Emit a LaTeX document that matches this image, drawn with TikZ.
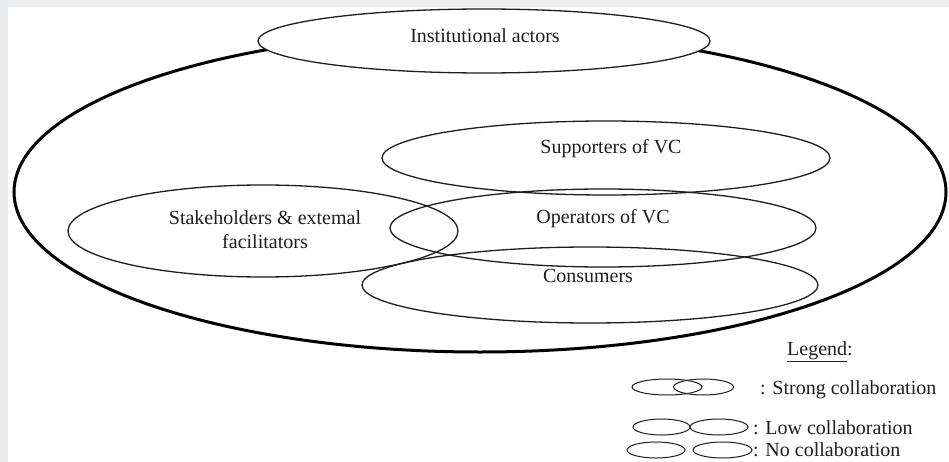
\documentclass[tikz,border=0pt]{standalone}
\usepackage{fontspec}
\setmainfont{Liberation Serif}
\usetikzlibrary{shapes.geometric}
\definecolor{framegrey}{HTML}{EBECEE}
\definecolor{inkc}{HTML}{1E1E1E}
\tikzset{
  oval/.style={draw=inkc, line width=1.3pt},
  bigoval/.style={draw=black, line width=3pt},
  smalloval/.style={draw=inkc, line width=1pt},
  lbl/.style={font=\fontsize{20}{24}\selectfont, text=inkc, inner sep=0pt, align=center},
  leglbl/.style={font=\fontsize{20}{24}\selectfont, text=inkc, inner sep=0pt, anchor=west},
}
\begin{document}
\begin{tikzpicture}[x=1pt,y=-1pt]
\useasboundingbox (0,0) rectangle (949,462);
\fill[framegrey] (0,0) rectangle (949,462);
\fill[white] (8,7) rectangle (949,462);
% outer ellipse
\draw[bigoval] (480,192) ellipse [x radius=466, y radius=160];
\coordinate (outer) at (480,192);
% institutional actors
\draw[oval, fill=white] (484,41) ellipse [x radius=226, y radius=32];
\node[lbl] (inst) at (485,36) {Institutional actors};
% stakeholders
\draw[oval] (263,231) ellipse [x radius=195, y radius=46];
\node[lbl] (stake) at (265,230) {Stakeholders \& extemal\\facilitators};
% supporters
\draw[oval] (606,158) ellipse [x radius=224, y radius=37];
\node[lbl] (supp) at (611,149) {Supporters of VC};
% operators
\draw[oval] (603,228) ellipse [x radius=213, y radius=39];
\node[lbl] (oper) at (603,219) {Operators of VC};
% consumers
\draw[oval] (590,285) ellipse [x radius=228, y radius=38];
\node[lbl] (cons) at (588,276) {Consumers};
% legend
\node[leglbl] (leg) at (787,352) {\underline{Legend}:};
\draw[smalloval] (667,387) ellipse [x radius=35, y radius=8];
\draw[smalloval] (703.5,387) ellipse [x radius=30, y radius=8];
\node[leglbl] (strong) at (760,390) {: Strong collaboration};
\draw[smalloval] (661.5,427) ellipse [x radius=28.5, y radius=8];
\draw[smalloval] (719,427) ellipse [x radius=29, y radius=8];
\node[leglbl] (low) at (753,428) {: Low collaboration};
\draw[smalloval] (656,450) ellipse [x radius=29, y radius=8];
\draw[smalloval] (722.5,450) ellipse [x radius=29.5, y radius=8];
\node[leglbl] (no) at (753,450) {: No collaboration};
\end{tikzpicture}
\end{document}
